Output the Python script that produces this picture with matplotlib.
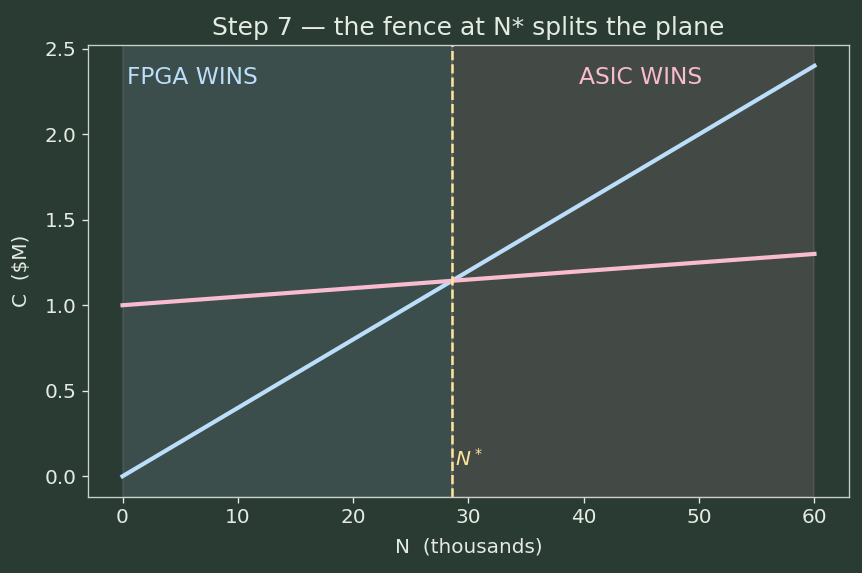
import numpy as np
import matplotlib
matplotlib.use('Agg')
import matplotlib.pyplot as plt

# cost model, C in $M, N in thousands
n_range = [0, 60]
fpga_cost = [0.0, 2.4]
asic_cost = [1.0, 1.3]

bg = '#2a3b33'
fg = '#e4ebe2'
blue = '#bbdefb'
pink = '#f8bbd0'
yellow = '#ffe69a'

# crossover point
fpga_slope = (fpga_cost[1] - fpga_cost[0]) / (n_range[1] - n_range[0])
asic_slope = (asic_cost[1] - asic_cost[0]) / (n_range[1] - n_range[0])
n_star = (asic_cost[0] - fpga_cost[0]) / (fpga_slope - asic_slope)

fig = plt.figure(figsize=(862 / 120, 573 / 120), dpi=120, facecolor=bg)
ax = fig.add_axes([0.102, 0.133, 0.883, 0.788], facecolor=bg)

ax.axvspan(n_range[0], n_star, color=blue, alpha=0.12)
ax.axvspan(n_star, n_range[1], color=pink, alpha=0.12)

ax.plot(n_range, fpga_cost, color=blue, lw=2.5)
ax.plot(n_range, asic_cost, color=pink, lw=2.5)
ax.axvline(n_star, color=yellow, ls='--', lw=1.5)

ax.text(0.4, 2.33, 'FPGA WINS', color=blue, fontsize=14, va='center', ha='left')
ax.text(44.9, 2.33, 'ASIC WINS', color=pink, fontsize=14, va='center', ha='center')
ax.text(n_star + 0.3, 0.04, '$N^*$', color=yellow, fontsize=12, va='bottom', ha='left')

ax.set_xlim(-3, 63)
ax.set_ylim(-0.12, 2.52)
ax.set_xticks([0, 10, 20, 30, 40, 50, 60])
ax.set_yticks([0.0, 0.5, 1.0, 1.5, 2.0, 2.5])

ax.set_title('Step 7 \u2014 the fence at N* splits the plane', color=fg, fontsize=15, pad=6)
ax.set_xlabel('N  (thousands)', color=fg, fontsize=12, labelpad=6)
ax.set_ylabel('C  ($M)', color=fg, fontsize=12, labelpad=8)
ax.tick_params(colors=fg, labelsize=12)
for s in ax.spines.values():
    s.set_color('#c9d2c8')

fig.savefig('out.png', dpi=120, facecolor=bg)
